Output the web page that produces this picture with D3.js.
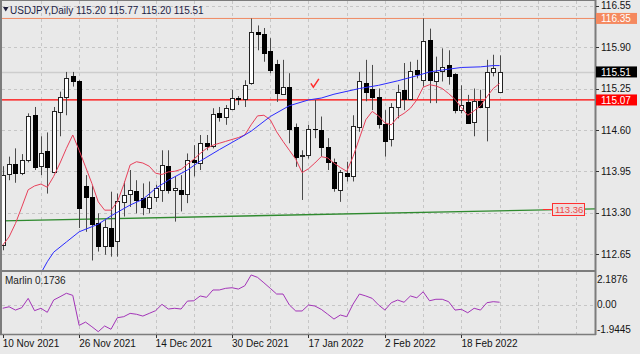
<!DOCTYPE html>
<html>
<head>
<meta charset="utf-8">
<script src="https://cdn.jsdelivr.net/npm/d3@7"></script>
<style>
  body { margin: 0; background: #e9e9e9; }
  svg { display: block; font-family: "Liberation Sans", Arial, sans-serif; }
</style>
</head>
<body>
<div id="chart"></div>
<script>
// Daily candles, bar 0 = 10 Nov 2021
const open = [112.79,113.90,114.06,113.93,114.13,114.83,114.03,114.27,113.94,114.88,
  115.12,115.44,115.36,113.72,113.54,113.14,112.77,113.06,112.85,113.47,
  113.59,113.64,113.53,113.37,113.55,113.66,114.03,113.66,113.66,113.59,
  114.13,114.08,114.39,114.35,114.86,114.81,114.93,115.10,115.08,115.33,
  116.14,116.11,115.84,115.63,115.17,115.28,114.64,114.19,114.21,114.61,
  114.60,114.33,114.10,113.66,113.93,113.88,114.64,115.33,115.25,115.11,
  114.70,114.45,114.96,115.23,115.08,115.54,115.38,116.01,115.37,115.52,
  115.62,115.48,114.92,115.04,114.73,115.06,114.96,115.51,115.20];
const high = [114.03,114.18,114.31,114.22,114.86,114.96,114.50,114.56,114.96,115.20,
  115.51,115.51,115.38,113.89,113.72,113.29,113.19,113.63,113.60,113.79,
  113.97,113.81,113.76,113.79,113.74,114.28,114.28,113.87,113.89,114.23,
  114.36,114.52,114.52,114.94,114.96,114.99,115.23,115.13,115.38,116.35,
  116.24,116.20,116.04,115.70,115.70,115.49,114.70,114.28,114.68,115.07,
  114.81,114.47,114.15,113.97,114.10,114.83,115.51,115.70,115.62,115.25,
  114.91,115.02,115.31,115.65,115.67,115.70,116.35,116.19,115.75,115.88,
  115.85,115.49,115.30,115.15,115.25,115.23,115.70,115.78,115.77];
const low = [112.71,113.81,113.77,113.89,114.09,113.97,113.89,113.60,113.92,114.50,
  114.83,115.28,113.06,113.00,112.55,112.69,112.64,112.61,112.61,113.24,
  113.39,113.29,113.26,113.29,113.47,113.47,113.60,113.16,113.32,113.45,
  113.87,113.97,114.28,114.31,114.73,114.68,114.91,114.99,114.96,115.31,
  115.85,115.67,115.49,115.04,115.16,114.39,114.02,113.50,114.15,114.47,
  114.18,113.97,113.63,113.47,113.79,113.79,114.57,115.05,114.91,114.62,
  114.18,114.34,114.78,114.91,115.07,115.41,115.28,115.02,115.02,115.36,
  115.31,114.86,114.86,114.70,114.50,114.94,114.42,115.44,115.20];
const close = [113.89,114.06,113.92,114.13,114.82,114.02,114.24,114.01,114.89,115.11,
  115.41,115.36,113.37,113.54,113.12,112.78,113.07,112.77,113.49,113.58,
  113.66,113.50,113.39,113.54,113.68,114.05,113.66,113.68,113.59,114.12,
  114.09,114.39,114.34,114.85,114.81,114.94,115.10,115.08,115.31,116.13,
  116.11,115.81,115.54,115.18,115.28,114.62,114.18,114.20,114.61,114.61,
  114.33,114.09,113.68,113.94,113.87,114.66,115.37,115.20,115.11,114.70,
  114.43,114.96,115.20,115.08,115.52,115.48,116.00,115.38,115.51,115.59,
  115.45,114.92,114.99,114.71,115.06,114.96,115.51,115.57,115.51];

// fast moving average (red), one value per bar
const redMa = [112.79,112.92,113.13,113.39,113.66,113.72,113.75,113.70,113.87,114.08,
  114.31,114.52,114.28,114.02,113.76,113.47,113.34,113.34,113.47,113.74,
  114.05,114.10,114.08,114.03,113.92,113.90,113.94,113.95,113.98,114.06,
  114.14,114.23,114.31,114.36,114.39,114.42,114.45,114.48,114.52,114.68,
  114.82,114.83,114.76,114.57,114.42,114.28,114.14,113.93,113.99,114.08,
  114.18,114.16,114.08,114.01,113.95,114.18,114.47,114.76,114.89,114.82,
  114.71,114.68,114.80,114.86,114.94,115.07,115.27,115.31,115.29,115.25,
  115.17,115.08,114.95,114.83,114.90,114.98,115.12,115.25,115.33];

// slow moving average (blue), read at these bars
const blueMaBars = [6,7,8,10,12,15,17,20,22,24,26,29,31,34,37,39,42,45,48,50,52,56,59,62,65,67,69,72,75,77,78];
const blueMaVals = [112.35,112.53,112.68,112.84,113.00,113.12,113.25,113.42,113.51,113.68,113.81,113.97,
  114.11,114.29,114.46,114.58,114.81,114.98,115.07,115.10,115.16,115.25,115.30,115.37,115.45,115.51,
  115.54,115.58,115.59,115.61,115.61];

// Marlin oscillator, one value per bar
const marlin = [-0.23,-0.13,-0.35,-0.19,0.43,-0.39,-0.23,-0.50,0.32,0.54,
  0.77,0.63,-1.37,-1.15,-1.46,-1.79,-1.41,-1.63,-0.86,-0.79,
  -0.57,-0.63,-0.75,-0.57,-0.39,0.03,-0.28,-0.23,-0.28,0.25,
  0.27,0.59,0.50,0.99,0.99,1.10,1.14,1.05,1.27,1.99,
  1.83,1.47,1.10,0.72,0.72,-0.01,-0.41,-0.41,-0.01,-0.08,
  -0.30,-0.62,-0.95,-0.68,-0.79,0.05,0.72,0.59,0.43,-0.01,
  -0.35,0.14,0.32,0.17,0.59,0.47,0.87,0.27,0.37,0.37,
  0.21,-0.35,-0.30,-0.53,-0.23,-0.35,0.14,0.21,0.1736];

// levels and trend line
const resistanceLevel = 116.35;
const supportLevel = 115.07;
const bidPrice = 115.51;
const trendBars = [-1, 93];
const trendVals = [113.17, 113.36];
const trendLabel = "113.36";

// axis labels
const priceTicks = [116.55, 115.90, 115.25, 114.60, 113.95, 113.30, 112.65];
const marlinTicks = [2.1876, 0, -1.9445];
const marlinTickText = ["2.1876", "0.00", "-1.9445"];
const dateBars = [0, 12, 24, 36, 48, 60, 72];
const dateLabels = ["10 Nov 2021", "26 Nov 2021", "14 Dec 2021", "30 Dec 2021", "17 Jan 2022", "2 Feb 2022", "18 Feb 2022"];

const W = 640, H = 354;
const left = 2, right = 595;
const mainTop = 1, mainBottom = 271, indTop = 272, indBottom = 335;

const svg = d3.select("#chart").append("svg").attr("width", W).attr("height", H);

const x = d3.scaleLinear().domain([0, 78]).range([2.7, 499.6]);
const y = d3.scaleLinear().domain([112.65, 116.55]).range([254.1, 5.7]);
const yi = d3.scaleLinear().domain([-1.9445, 2.1876]).range([334, 272]);

svg.append("rect").attr("width", W).attr("height", H).attr("fill", "#e9e9e9");

const defs = svg.append("defs");
defs.append("clipPath").attr("id", "clipMain").append("rect")
  .attr("x", left).attr("y", mainTop).attr("width", right - left).attr("height", mainBottom - mainTop);
defs.append("clipPath").attr("id", "clipInd").append("rect")
  .attr("x", left).attr("y", indTop).attr("width", right - left).attr("height", indBottom - indTop);

// grid
const gridBars = d3.range(6, 96, 6);
const grid = svg.append("g").attr("stroke", "#c6c6c6").attr("stroke-dasharray", "3,3").attr("shape-rendering", "crispEdges");
gridBars.forEach(b => {
  const gx = Math.round(x(b)) + 0.5;
  if (gx >= right) return;
  grid.append("line").attr("x1", gx).attr("x2", gx).attr("y1", mainTop).attr("y2", mainBottom);
  grid.append("line").attr("x1", gx).attr("x2", gx).attr("y1", indTop).attr("y2", indBottom);
});
priceTicks.forEach(v => {
  const gy = Math.round(y(v)) + 0.5;
  grid.append("line").attr("x1", left).attr("x2", right).attr("y1", gy).attr("y2", gy);
});
grid.append("line").attr("x1", left).attr("x2", right)
  .attr("y1", Math.round(yi(0)) + 0.5).attr("y2", Math.round(yi(0)) + 0.5);

const main = svg.append("g").attr("clip-path", "url(#clipMain)");

// bid line
main.append("line").attr("x1", left).attr("x2", right)
  .attr("y1", Math.round(y(bidPrice)) + 0.5).attr("y2", Math.round(y(bidPrice)) + 0.5)
  .attr("stroke", "#cdcdcd").attr("stroke-width", 1.5);

// horizontal levels
main.append("line").attr("x1", left).attr("x2", right)
  .attr("y1", y(resistanceLevel)).attr("y2", y(resistanceLevel))
  .attr("stroke", "#f08a62").attr("stroke-width", 1);
main.append("line").attr("x1", left).attr("x2", right)
  .attr("y1", y(supportLevel)).attr("y2", y(supportLevel))
  .attr("stroke", "#ff0000").attr("stroke-width", 1.2);

// trend line
main.append("path")
  .datum(trendBars.map((b, i) => [b, trendVals[i]]))
  .attr("d", d3.line().x(d => x(d[0])).y(d => y(d[1])))
  .attr("fill", "none").attr("stroke", "#2f8a2f").attr("stroke-width", 1.3);

// candles
const candles = main.append("g");
open.forEach((o, i) => {
  const c = close[i];
  const cx = Math.round(x(i));
  candles.append("line")
    .attr("x1", cx + 0.5).attr("x2", cx + 0.5)
    .attr("y1", y(high[i])).attr("y2", y(low[i]))
    .attr("stroke", "#4a4a4a").attr("stroke-width", 1);
  const top = Math.round(y(Math.max(o, c)));
  const bot = Math.round(y(Math.min(o, c)));
  if (bot - top < 1) {
    candles.append("line").attr("x1", cx - 2).attr("x2", cx + 3)
      .attr("y1", top + 0.5).attr("y2", top + 0.5).attr("stroke", "#000");
  } else if (c >= o) {
    candles.append("rect").attr("x", cx - 1.5).attr("y", top + 0.5)
      .attr("width", 4).attr("height", Math.max(1, bot - top))
      .attr("fill", "#fff").attr("stroke", "#222").attr("stroke-width", 1);
  } else {
    candles.append("rect").attr("x", cx - 2).attr("y", top)
      .attr("width", 5).attr("height", Math.max(1, bot - top + 1))
      .attr("fill", "#000");
  }
});

// moving averages
main.append("path").datum(redMa)
  .attr("d", d3.line().x((d, i) => x(i)).y(d => y(d)))
  .attr("fill", "none").attr("stroke", "#e8405a").attr("stroke-width", 1);
main.append("path").datum(blueMaBars.map((b, i) => [b, blueMaVals[i]]))
  .attr("d", d3.line().x(d => x(d[0])).y(d => y(d[1])))
  .attr("fill", "none").attr("stroke", "#2b2bff").attr("stroke-width", 1);

// check mark above bar 49
const ck = x(49);
main.append("path")
  .attr("d", `M${ck - 4},${y(115.33)} L${ck - 1.5},${y(115.27)} L${ck + 4},${y(115.40)}`)
  .attr("fill", "none").attr("stroke", "#ff2a2a").attr("stroke-width", 1.5);

// trend line label
const ty = Math.round(y(trendVals[1])) + 0.5;
main.append("line").attr("x1", 543).attr("x2", 553).attr("y1", ty).attr("y2", ty)
  .attr("stroke", "#ff3030").attr("stroke-width", 1);
main.append("rect").attr("x", 552.5).attr("y", ty - 6).attr("width", 32).attr("height", 12)
  .attr("fill", "#ecdede").attr("stroke", "#ff3030");
main.append("text").attr("x", 555).attr("y", ty + 3.5).text(trendLabel)
  .attr("font-size", "9.5px").attr("fill", "#ee4848");

// title
svg.append("path").attr("d", "M3,7 L8.5,7 L5.75,11.5 Z").attr("fill", "#1e1e3c");
svg.append("text").attr("x", 10).attr("y", 14).attr("font-size", "10px").attr("fill", "#1e1e46")
  .text("USDJPY,Daily  " + [open[78], high[78], low[78], close[78]].map(v => v.toFixed(2)).join(" "));

// indicator
const ind = svg.append("g").attr("clip-path", "url(#clipInd)");
ind.append("path").datum(marlin)
  .attr("d", d3.line().x((d, i) => x(i)).y(d => yi(d)))
  .attr("fill", "none").attr("stroke", "#a334b8").attr("stroke-width", 1);
svg.append("text").attr("x", 5).attr("y", 284).attr("font-size", "10px").attr("fill", "#222")
  .text("Marlin " + marlin[marlin.length - 1].toFixed(4));

// borders
const border = svg.append("g").attr("stroke", "#7c7c7c").attr("fill", "none");
border.append("line").attr("x1", 1).attr("x2", 1).attr("y1", 0).attr("y2", indBottom).attr("stroke-width", 2);
border.append("line").attr("x1", 0).attr("x2", right + 1).attr("y1", 0.5).attr("y2", 0.5);
border.append("line").attr("x1", right + 0.5).attr("x2", right + 0.5).attr("y1", 0).attr("y2", indBottom).attr("stroke-width", 2);
border.append("line").attr("x1", 0).attr("x2", right + 1).attr("y1", mainBottom).attr("y2", mainBottom).attr("stroke-width", 2);
border.append("line").attr("x1", 0).attr("x2", right + 1).attr("y1", indBottom - 0.5).attr("y2", indBottom - 0.5).attr("stroke-width", 1.5);

// price axis
const axis = svg.append("g").attr("font-size", "10px").attr("fill", "#141414");
priceTicks.forEach(v => {
  axis.append("line").attr("x1", right + 1).attr("x2", right + 4)
    .attr("y1", Math.round(y(v)) + 0.5).attr("y2", Math.round(y(v)) + 0.5).attr("stroke", "#333");
  axis.append("text").attr("x", 601).attr("y", y(v) + 3.6).text(v.toFixed(2));
});

// price boxes
[[resistanceLevel, "#f5895f"], [bidPrice, "#000"], [supportLevel, "#ff0000"]].forEach(([v, col]) => {
  svg.append("rect").attr("x", 596).attr("y", y(v) - 5.5).attr("width", 41).attr("height", 11).attr("fill", col);
  svg.append("text").attr("x", 601).attr("y", y(v) + 3.6).attr("font-size", "10px")
    .attr("fill", "#fff").text(v.toFixed(2));
});

// indicator axis
marlinTicks.forEach((v, i) => {
  const ly = i === 0 ? 282.5 : (i === 2 ? 332.5 : yi(v) + 3.6);
  axis.append("text").attr("x", 597).attr("y", ly).text(marlinTickText[i]);
});

// date axis
dateBars.forEach((b, i) => {
  const dx = Math.round(x(b)) + 0.5;
  axis.append("line").attr("x1", dx).attr("x2", dx).attr("y1", indBottom).attr("y2", indBottom + 3).attr("stroke", "#333");
  axis.append("text").attr("x", x(b)).attr("y", 347).text(dateLabels[i]);
});
</script>
</body>
</html>
